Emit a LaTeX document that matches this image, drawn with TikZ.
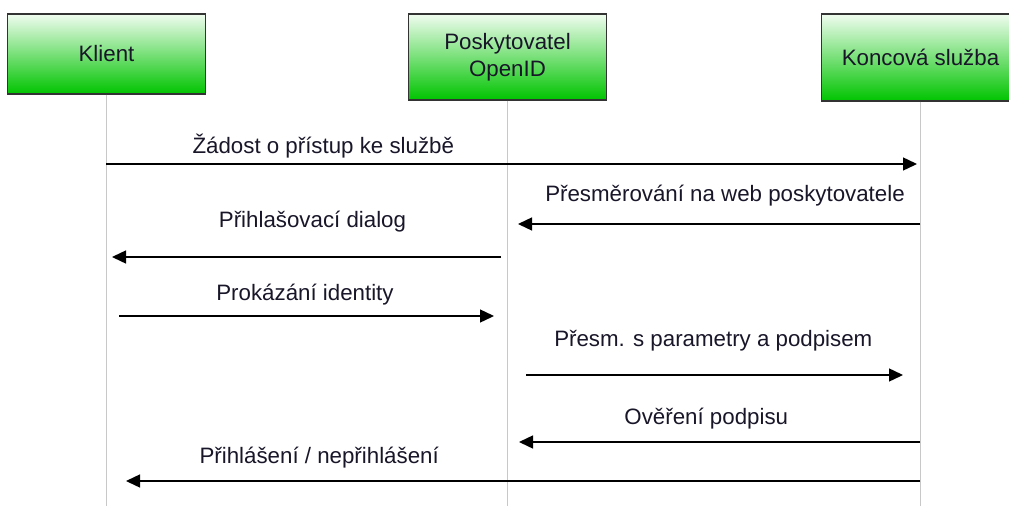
\documentclass[tikz,border=0pt]{standalone}
\usepackage{fontspec}
\setmainfont{Liberation Sans}
\usetikzlibrary{arrows.meta}
\definecolor{boxtop}{RGB}{240,252,240}
\definecolor{boxbottom}{RGB}{0,196,0}
\definecolor{lifegray}{RGB}{200,200,200}
\definecolor{ink}{RGB}{24,22,40}
\begin{document}
\begin{tikzpicture}[x=1pt,y=-1pt,
  actor/.style={draw=black!80, line width=1.2pt, top color=boxtop, bottom color=boxbottom,
    minimum width=198pt, inner sep=0pt, align=center, text=ink,
    font=\fontsize{22.3}{27.3}\selectfont},
  lifeline/.style={draw=lifegray, line width=1.6pt},
  msg/.style={draw=black, line width=1.4pt, -{Triangle[length=14pt,width=13pt]}},
  msglabel/.style={anchor=base, text=ink, inner sep=0pt, font=\fontsize{22.3}{27.3}\selectfont}]
\clip (0,0) rectangle (1009,506);
\useasboundingbox (0,0) rectangle (1009,506);

% participants
\node[actor, minimum height=80pt] (klient) at (106.5,54) {Klient};
\node[actor, minimum height=86pt] (provider) at (507.5,57) {Poskytovatel\\OpenID};
\node[actor, minimum height=87pt] (service) at (920.5,57.5) {Koncová služba};

% lifelines
\coordinate (klientEnd) at (106.5,506);
\coordinate (providerEnd) at (507.5,506);
\coordinate (serviceEnd) at (920.5,506);
\draw[lifeline] (klient.south) -- (klientEnd);
\draw[lifeline] (provider.south) -- (providerEnd);
\draw[lifeline] (service.south) -- (serviceEnd);

% message end points
\coordinate (m1a) at (106,164);  \coordinate (m1b) at (917,164);
\coordinate (m2a) at (920,224);  \coordinate (m2b) at (518,224);
\coordinate (m3a) at (501,257);  \coordinate (m3b) at (112,257);
\coordinate (m4a) at (119,316);  \coordinate (m4b) at (494,316);
\coordinate (m5a) at (526,375);  \coordinate (m5b) at (903,375);
\coordinate (m6a) at (920,442);  \coordinate (m6b) at (519,442);
\coordinate (m7a) at (920,481);  \coordinate (m7b) at (126,481);

% messages
\draw[msg] (m1a) -- (m1b);
\draw[msg] (m2a) -- (m2b);
\draw[msg] (m3a) -- (m3b);
\draw[msg] (m4a) -- (m4b);
\draw[msg] (m5a) -- (m5b);
\draw[msg] (m6a) -- (m6b);
\draw[msg] (m7a) -- (m7b);

% message labels
\node[msglabel] (l1) at (323.3,153) {Žádost o přístup ke službě};
\node[msglabel] (l2) at (725,201) {Přesměrování na web poskytovatele};
\node[msglabel] (l3) at (312.5,227) {Přihlašovací dialog};
\node[msglabel] (l4) at (305,300) {Prokázání identity};
\node[msglabel] (l5) at (713.3,346) {Přesm. s parametry a podpisem};
\node[msglabel] (l6) at (706.3,424) {Ověření podpisu};
\node[msglabel] (l7) at (319.2,463) {Přihlášení / nepřihlášení};
\end{tikzpicture}
\end{document}
